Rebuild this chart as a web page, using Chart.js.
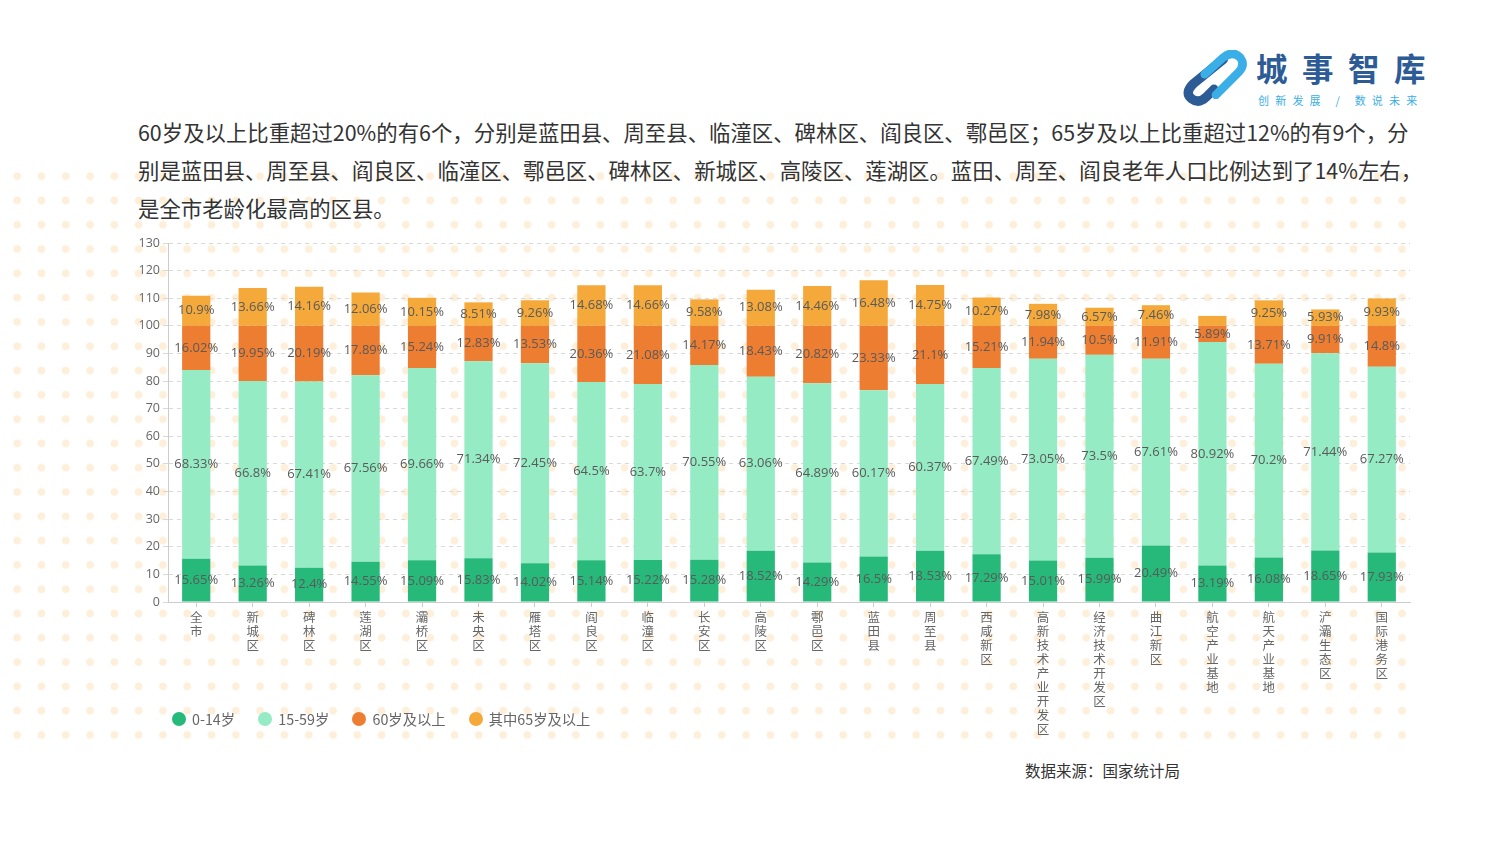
<!DOCTYPE html>
<html>
<head>
<meta charset="utf-8">
<script src="https://cdn.jsdelivr.net/npm/chart.js@4.4.1/dist/chart.umd.min.js"></script>
<style>
  html,body{margin:0;padding:0;background:#fff;width:1500px;height:844px;overflow:hidden;}
  body{position:relative;font-family:"Noto Sans CJK SC","Noto Sans",sans-serif;}
  #dots{position:absolute;left:5px;top:164px;width:1410px;height:584px;
    background-image:radial-gradient(circle at center,#fdefd9 0,#fdefd9 3.6px,rgba(253,239,217,0) 4.2px);
    background-size:24.3px 24.3px;}
  .line{position:absolute;left:138px;font-size:21.4px;color:#333;white-space:nowrap;line-height:1;}
  #wrap{position:absolute;left:130px;top:231px;width:1290px;height:519px;}
  #legend{position:absolute;left:172px;top:708px;font-size:14.3px;color:#666;white-space:nowrap;}
  #legend span.it{display:inline-block;margin-right:20px;}
  #legend i{display:inline-block;width:14px;height:14px;border-radius:50%;vertical-align:-1px;margin-right:6px;}
  #src{position:absolute;left:1025px;top:759px;font-size:15.5px;color:#333;}
  #logo-t{position:absolute;left:1256px;top:52px;font-size:31.5px;font-weight:bold;color:#2d5b96;letter-spacing:14.5px;line-height:1;}
  #logo-s{position:absolute;left:1258px;top:95px;font-size:11px;color:#3aaee6;letter-spacing:6.2px;line-height:1;}
</style>
</head>
<body>
<div id="dots"></div>
<svg style="position:absolute;left:1176px;top:50px" width="76" height="58" viewBox="0 0 80 62">
  <path d="M50 10 L18 36 Q8 46 16 52 Q24 58 32 50 L40 42" fill="none" stroke="#2d5b96" stroke-width="10" stroke-linecap="round"/>
  <path d="M30 26 L50 8 Q60 0 68 8 Q74 16 66 24 L42 48" fill="none" stroke="#3aaee6" stroke-width="9" stroke-linecap="round"/>
</svg>
<div id="logo-t">城事智库</div>
<div id="logo-s">创新发展 / 数说未来</div>

<div class="line" style="top:121px">60岁及以上比重超过20%的有6个，分别是蓝田县、周至县、临潼区、碑林区、阎良区、鄠邑区；65岁及以上比重超过12%的有9个，分</div>
<div class="line" style="top:159px">别是蓝田县、周至县、阎良区、临潼区、鄠邑区、碑林区、新城区、高陵区、莲湖区。蓝田、周至、阎良老年人口比例达到了14%左右，</div>
<div class="line" style="top:197px">是全市老龄化最高的区县。</div>

<div id="wrap"><canvas id="c"></canvas></div>

<div id="legend">
  <span class="it"><i style="background:#26b97a"></i>0-14岁</span>
  <span class="it"><i style="background:#95ebc4"></i>15-59岁</span>
  <span class="it"><i style="background:#ed7d31"></i>60岁及以上</span>
  <span class="it"><i style="background:#f4a93a"></i>其中65岁及以上</span>
</div>
<div id="src">数据来源：国家统计局</div>

<script>
const categories = ['全市','新城区','碑林区','莲湖区','灞桥区','未央区','雁塔区','阎良区','临潼区','长安区','高陵区','鄠邑区','蓝田县','周至县','西咸新区','高新技术产业开发区','经济技术开发区','曲江新区','航空产业基地','航天产业基地','浐灞生态区','国际港务区'];
const age0to14 = [15.65,13.26,12.4,14.55,15.09,15.83,14.02,15.14,15.22,15.28,18.52,14.29,16.5,18.53,17.29,15.01,15.99,20.49,13.19,16.08,18.65,17.93];
const age15to59 = [68.33,66.8,67.41,67.56,69.66,71.34,72.45,64.5,63.7,70.55,63.06,64.89,60.17,60.37,67.49,73.05,73.5,67.61,80.92,70.2,71.44,67.27];
const age60plus = [16.02,19.95,20.19,17.89,15.24,12.83,13.53,20.36,21.08,14.17,18.43,20.82,23.33,21.1,15.21,11.94,10.5,11.91,5.89,13.71,9.91,14.8];
const age65plus = [10.9,13.66,14.16,12.06,10.15,8.51,9.26,14.68,14.66,9.58,13.08,14.46,16.48,14.75,10.27,7.98,6.57,7.46,3.6,9.25,5.93,9.93];
const yTicks = [0,10,20,30,40,50,60,70,80,90,100,110,120,130];

const seriesNames = ['0-14岁','15-59岁','60岁及以上','其中65岁及以上'];
const seriesColors = ['#26b97a','#95ebc4','#ed7d31','#f4a93a'];
const seriesData = [age0to14, age15to59, age60plus, age65plus];

const labelPlugin = {
  id:'segLabels',
  afterDatasetsDraw(chart){
    const ctx = chart.ctx;
    ctx.save();
    ctx.font = '13px "Open Sans", "Noto Sans", sans-serif';
    ctx.fillStyle = '#5a5a5a';
    ctx.textAlign = 'center';
    ctx.textBaseline = 'middle';
    chart.data.datasets.forEach((ds, di) => {
      const meta = chart.getDatasetMeta(di);
      meta.data.forEach((bar, i) => {
        const h = Math.abs(bar.base - bar.y);
        if (h < 12) return;
        ctx.fillText(ds.data[i] + '%', bar.x, (bar.y + bar.base) / 2);
      });
    });
    ctx.restore();
  }
};

new Chart(document.getElementById('c'), {
  type:'bar',
  data:{
    labels: categories,
    datasets: seriesData.map((d, k) => ({
      label: seriesNames[k], data: d, backgroundColor: seriesColors[k],
      barPercentage: 0.5, categoryPercentage: 1.0, borderWidth: 0
    }))
  },
  options:{
    responsive:true, maintainAspectRatio:false, animation:false,
    layout:{padding:{top:12,right:10,left:0,bottom:0}},
    plugins:{legend:{display:false}, tooltip:{enabled:false}},
    scales:{
      x:{
        stacked:true,
        grid:{display:true, drawOnChartArea:false, drawTicks:true, tickLength:5, offset:false, color:'#ccc'},
        border:{display:true, color:'#ccc'},
        ticks:{
          autoSkip:false, maxRotation:0, minRotation:0, padding:3, color:'#666',
          font:{family:'"Noto Sans CJK SC", sans-serif', size:12.5, lineHeight:1.12},
          callback:function(v, i){ return categories[i].split(''); }
        },
        afterFit(s){ s.height = 148; }
      },
      y:{
        stacked:true, min:0, max:130,
        afterBuildTicks(s){ s.ticks = yTicks.map(v => ({value:v})); },
        grid:{color:'#d9d9d9', tickLength:5, drawTicks:true},
        border:{display:true, color:'#ccc', dash:[4,4]},
        ticks:{color:'#666', padding:3, font:{family:'"Open Sans", sans-serif', size:12.5}},
        afterFit(s){ s.width = 38; }
      }
    }
  },
  plugins:[labelPlugin]
});
</script>
</body>
</html>
